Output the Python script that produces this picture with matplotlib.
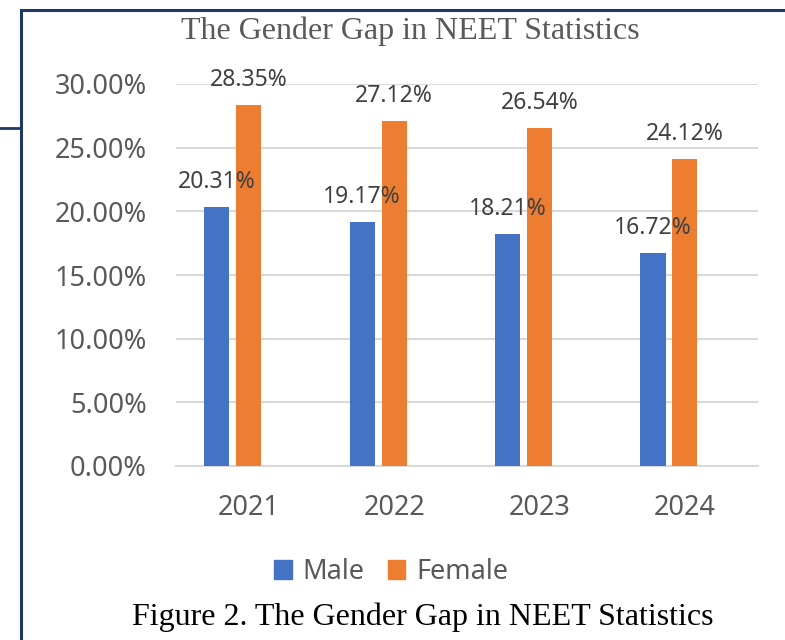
import matplotlib
matplotlib.use("Agg")
import matplotlib.pyplot as plt
from matplotlib.lines import Line2D
from matplotlib.patches import Patch
import numpy as np

years = ["2021", "2022", "2023", "2024"]
male = [20.31, 19.17, 18.21, 16.72]
female = [28.35, 27.12, 26.54, 24.12]
yticks = [0, 5, 10, 15, 20, 25, 30]

BLUE = "#4472C4"
ORANGE = "#ED7D31"
SANS = ["Noto Sans", "DejaVu Sans"]
SERIF = ["Liberation Serif", "DejaVu Serif"]

fig = plt.figure(figsize=(7.85, 6.4), dpi=100)
ax = fig.add_axes([176/785, 1-466/640, (757.7-176)/785, (466-84)/640])

x = np.arange(len(years))
w = 0.172
ax.bar(x - 0.22, male, w, color=BLUE, zorder=3)
ax.bar(x + 0.0, female, w, color=ORANGE, zorder=3)

for xi, v in zip(x - 0.22, male):
    ax.annotate(f"{v:.2f}%", (xi, v), xytext=(0, 18), textcoords="offset points",
                ha="center", va="center", fontsize=16.5, color="#404040", family=SANS, zorder=4)
for xi, v in zip(x + 0.0, female):
    ax.annotate(f"{v:.2f}%", (xi, v), xytext=(0, 18), textcoords="offset points",
                ha="center", va="center", fontsize=16.5, color="#404040", family=SANS, zorder=4)

ax.set_xlim(-0.5, 3.5)
ax.set_ylim(0, 30)
ax.set_yticks(yticks)
ax.set_yticklabels([f"{t:.2f}%" for t in yticks], family=SANS, fontsize=19.5, color="#595959")
ax.set_xticks(x)
ax.set_xticklabels(years, family=SANS, fontsize=19.5, color="#595959")
ax.tick_params(axis="y", length=0, pad=21)
ax.tick_params(axis="x", length=0, pad=20)
ax.grid(axis="y", color="#D9D9D9", linewidth=1.5, zorder=0)
for s in ["left", "right", "top"]:
    ax.spines[s].set_visible(False)
ax.spines["bottom"].set_color("#D9D9D9")
ax.spines["bottom"].set_linewidth(1.5)

handles = [Patch(color=BLUE, label="Male"), Patch(color=ORANGE, label="Female")]
leg = fig.legend(handles=handles, loc="center", bbox_to_anchor=(391/785, 1-572/640), ncol=2,
                 frameon=False, prop={"family": SANS, "size": 19.5}, handlelength=0.65,
                 handleheight=0.65, handletextpad=0.4, columnspacing=0.85)
for t in leg.get_texts():
    t.set_color("#595959")

fig.text(410/785, 1-31/640, "The Gender Gap in NEET Statistics", ha="center", va="center",
         family=SERIF, fontsize=23, color="#595959")
fig.text(423/785, 1-617/640, "Figure 2. The Gender Gap in NEET Statistics", ha="center", va="center",
         family=SERIF, fontsize=23, color="black")

navy = "#1F3864"
fig.add_artist(Line2D([21/785, 1], [1-10/640, 1-10/640], color=navy, linewidth=2.2))
fig.add_artist(Line2D([21/785, 21/785], [1-10/640, 0], color=navy, linewidth=2.2))
fig.add_artist(Line2D([0, 19/785], [1-128/640, 1-128/640], color=navy, linewidth=2.0))

fig.savefig("out.png", dpi=100)
